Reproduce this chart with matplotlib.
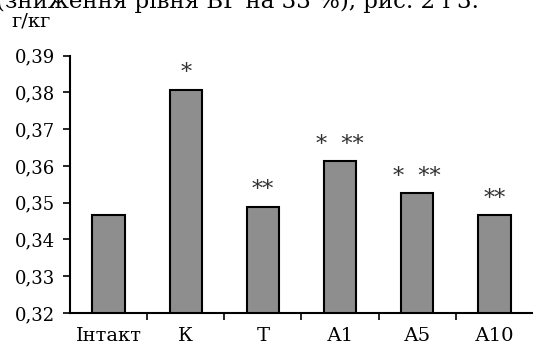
import matplotlib
matplotlib.use('Agg')
import matplotlib.pyplot as plt
import numpy as np

# дані з рисунка
groups = ['Інтакт', 'К', 'Т', 'А1', 'А5', 'А10']
values = [0.3467, 0.3808, 0.3489, 0.3614, 0.3527, 0.3467]
marks = ['', '*', '**', '*  **', '*  **', '**']
yticks = [0.32, 0.33, 0.34, 0.35, 0.36, 0.37, 0.38, 0.39]

plt.rcParams['font.family'] = ['DejaVu Serif']

fig = plt.figure(figsize=(5.33, 3.54), dpi=100)
ax = fig.add_axes([0.1313, 0.1158, 0.8687, 0.7268])

x = np.arange(len(groups))
ax.bar(x, values, width=0.42, color='#8e8e8e', edgecolor='black', linewidth=1.5, zorder=2)

for xi, v, m in zip(x, values, marks):
    if m:
        ax.text(xi, v + 0.0028, m, ha='center', va='baseline', fontsize=16, color='#333333')

ax.set_xlim(-0.5, len(groups) - 0.5)
ax.set_ylim(0.32, 0.39)
ax.set_yticks(yticks)
ax.set_yticklabels([('%.2f' % t).replace('.', ',') for t in yticks])
ax.set_xticks(np.arange(0.5, len(groups) - 0.5, 1.0))
ax.set_xticklabels([])
ax.set_xticks(x, minor=True)
ax.set_xticklabels(groups, minor=True)
ax.tick_params(axis='x', which='major', direction='out', length=5, width=1.2)
ax.tick_params(axis='x', which='minor', length=0, pad=10, labelsize=14)
ax.tick_params(axis='y', direction='out', length=5, width=1.2, labelsize=13, pad=6)

for s in ['top', 'right']:
    ax.spines[s].set_visible(False)
for s in ['left', 'bottom']:
    ax.spines[s].set_linewidth(1.5)

fig.text(0.022, 1 - 27 / 354, 'г/кг', fontsize=14, ha='left', va='baseline')
fig.text(-0.008, 1 - 8 / 354, '(зниження рівня БГ на 33 %), рис. 2 і 3.',
         fontsize=16.5, ha='left', va='baseline')

fig.savefig('out.png', dpi=100)
